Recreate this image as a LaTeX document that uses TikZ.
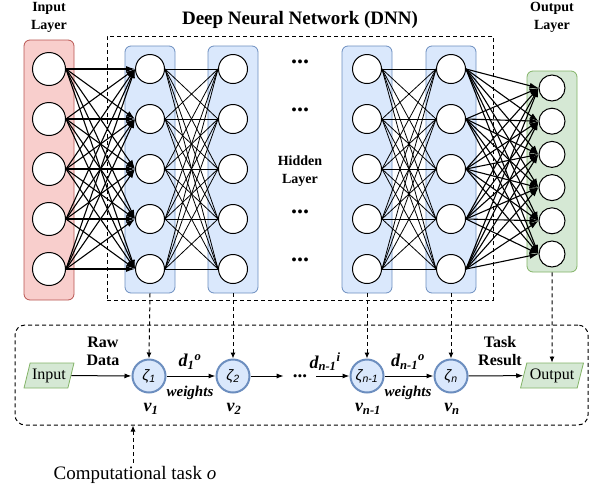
\documentclass[tikz,border=0pt]{standalone}
\usepackage{fontspec}
\setmainfont{Liberation Serif}
\newfontfamily\zetafont{Liberation Sans}
\usetikzlibrary{arrows.meta,shapes.geometric}

\definecolor{redfill}{HTML}{F8CECC}
\definecolor{redline}{HTML}{B85450}
\definecolor{bluefill}{HTML}{DAE8FC}
\definecolor{blueline}{HTML}{6C8EBF}
\definecolor{greenfill}{HTML}{D5E8D4}
\definecolor{greenline}{HTML}{82B366}

\begin{document}
\begin{tikzpicture}[x=1pt, y=-1pt,
  layerbox/.style={draw, rounded corners=6pt, line width=0.8pt, minimum width=50pt, inner sep=0pt},
  neuron/.style={circle, draw, fill=white, line width=1pt, minimum size=29pt, inner sep=0pt},
  wire/.style={line width=0.8pt},
  fire/.style={line width=1.1pt, -{Latex[length=9pt, width=6pt]}},
  dashbox/.style={draw, dash pattern=on 4pt off 3pt, line width=1pt, inner sep=0pt},
  feed/.style={dash pattern=on 4pt off 3pt, line width=1pt, -{Latex[length=6pt, width=5pt]}},
  flow/.style={line width=1pt, -{Latex[length=7pt, width=5pt]}},
  zeta/.style={circle, draw=blueline, fill=bluefill, line width=2pt, minimum size=33pt, inner sep=0pt, font=\zetafont\itshape\fontsize{15}{15}\selectfont},
  io/.style={trapezium, trapezium left angle=70, trapezium right angle=110, trapezium stretches=true, draw=greenline, fill=greenfill, line width=0.8pt, minimum height=25pt, inner sep=1pt, font=\fontsize{16}{16}\selectfont},
  hdr/.style={font=\bfseries\fontsize{14}{18}\selectfont, align=center},
  lbl/.style={font=\bfseries\itshape\fontsize{18}{18}\selectfont},
  wlbl/.style={font=\bfseries\itshape\fontsize{15}{15}\selectfont},
  ]
  \useasboundingbox (0,0) rectangle (597,491);

  % upper part: the network
  \node[dashbox, minimum width=386pt, minimum height=264pt] (dnn) at (300,168) {};
  \node[font=\bfseries\fontsize{19}{19}\selectfont] (title) at (300,20) {Deep Neural Network (DNN)};
  \node[hdr] (inTitle) at (49,17) {Input\\Layer};
  \node[hdr] (outTitle) at (552,17) {Output\\Layer};
  \node[hdr] (hidTitle) at (300,171) {Hidden\\Layer};

  \node[layerbox, draw=redline, fill=redfill, minimum height=260pt] (inL) at (49,170) {};
  \node[layerbox, draw=blueline, fill=bluefill, minimum height=247pt] (h1) at (150,169.5) {};
  \node[layerbox, draw=blueline, fill=bluefill, minimum height=247pt] (h2) at (233,169.5) {};
  \node[layerbox, draw=blueline, fill=bluefill, minimum height=247pt] (h3) at (367,169.5) {};
  \node[layerbox, draw=blueline, fill=bluefill, minimum height=247pt] (h4) at (451,169.5) {};
  \node[layerbox, draw=greenline, fill=greenfill, minimum height=201pt] (outL) at (552,171.5) {};

  \foreach \i in {1,...,5} {
    \node[neuron, minimum size=33pt] (in\i) at (49,19+50*\i) {};
    \node[neuron] (a\i) at (150,19+50*\i) {};
    \node[neuron] (b\i) at (233,19+50*\i) {};
    \node[neuron] (c\i) at (367,19+50*\i) {};
    \node[neuron] (d\i) at (451,19+50*\i) {};
  }
  \foreach \j in {1,...,6}
    \node[neuron, minimum size=26pt] (out\j) at (552,54.8+33.2*\j) {};

  \foreach \y/\n in {62/1,110/2,212/3,260/4}
    \node[font=\bfseries\fontsize{24}{24}\selectfont] (gap\n) at (300,\y) {...};

  \foreach \i in {1,...,5} {
    \foreach \j in {1,...,5} {
      \draw[fire] (in\i.east) -- (a\j.west);
      \draw[wire] (a\i.east) -- (b\j.west);
      \draw[wire] (c\i.east) -- (d\j.west);
    }
    \foreach \j in {1,...,6}
      \draw[fire] (d\i.east) -- (out\j.west);
  }

  % lower part: the computational task
  \node[dashbox, rounded corners=10pt, minimum width=573pt, minimum height=100pt] (task) at (301.5,375) {};
  \node[io, minimum width=50pt] (inp) at (49,375.5) {Input};
  \node[zeta] (z1) at (149,376) {ζ\textsubscript{1}};
  \node[zeta] (z2) at (233,376) {ζ\textsubscript{2}};
  \node[font=\bfseries\fontsize{19}{19}\selectfont, inner xsep=9pt] (more) at (300,376) {...};
  \node[zeta] (z3) at (367,376) {ζ\textsubscript{n-1}};
  \node[zeta] (z4) at (451,376) {ζ\textsubscript{n}};
  \node[io, minimum width=63pt] (outp) at (552,375.5) {Output};

  \draw[flow] (inp) -- (z1);
  \draw[flow] (z1) -- (z2);
  \draw[flow] (z2) -- (more);
  \draw[flow] (more) -- (z3);
  \draw[flow] (z3) -- (z4);
  \draw[flow] (z4) -- (outp);

  \node[font=\bfseries\fontsize{16}{18}\selectfont, align=center] (raw) at (103,351) {Raw\\Data};
  \node[font=\bfseries\fontsize{16}{18}\selectfont, align=center] (result) at (500,351) {Task\\Result};
  \node[lbl] (d1) at (190,362) {d\textsubscript{1}\textsuperscript{o}};
  \node[lbl] (d2) at (325,362) {d\textsubscript{n-1}\textsuperscript{i}};
  \node[lbl] (d3) at (408,362) {d\textsubscript{n-1}\textsuperscript{o}};
  \node[wlbl] (w1) at (190,393) {weights};
  \node[wlbl] (w2) at (408,393) {weights};
  \node[lbl] (v1) at (151,409) {v\textsubscript{1}};
  \node[lbl] (v2) at (234,409) {v\textsubscript{2}};
  \node[lbl] (v3) at (368,409) {v\textsubscript{n-1}};
  \node[lbl] (v4) at (452,409) {v\textsubscript{n}};

  \draw[feed] (h1.south) -- (z1.north);
  \draw[feed] (h2.south) -- (z2.north);
  \draw[feed] (h3.south) -- (z3.north);
  \draw[feed] (h4.south) -- (z4.north);
  \draw[feed] (outL.south) -- (outp.north);

  \node[font=\fontsize{19}{19}\selectfont] (comp) at (135,475) {Computational task \textit{o}};
  \draw[feed] (comp.north -| 133,0) -- (task.south -| 133,0);
\end{tikzpicture}
\end{document}
